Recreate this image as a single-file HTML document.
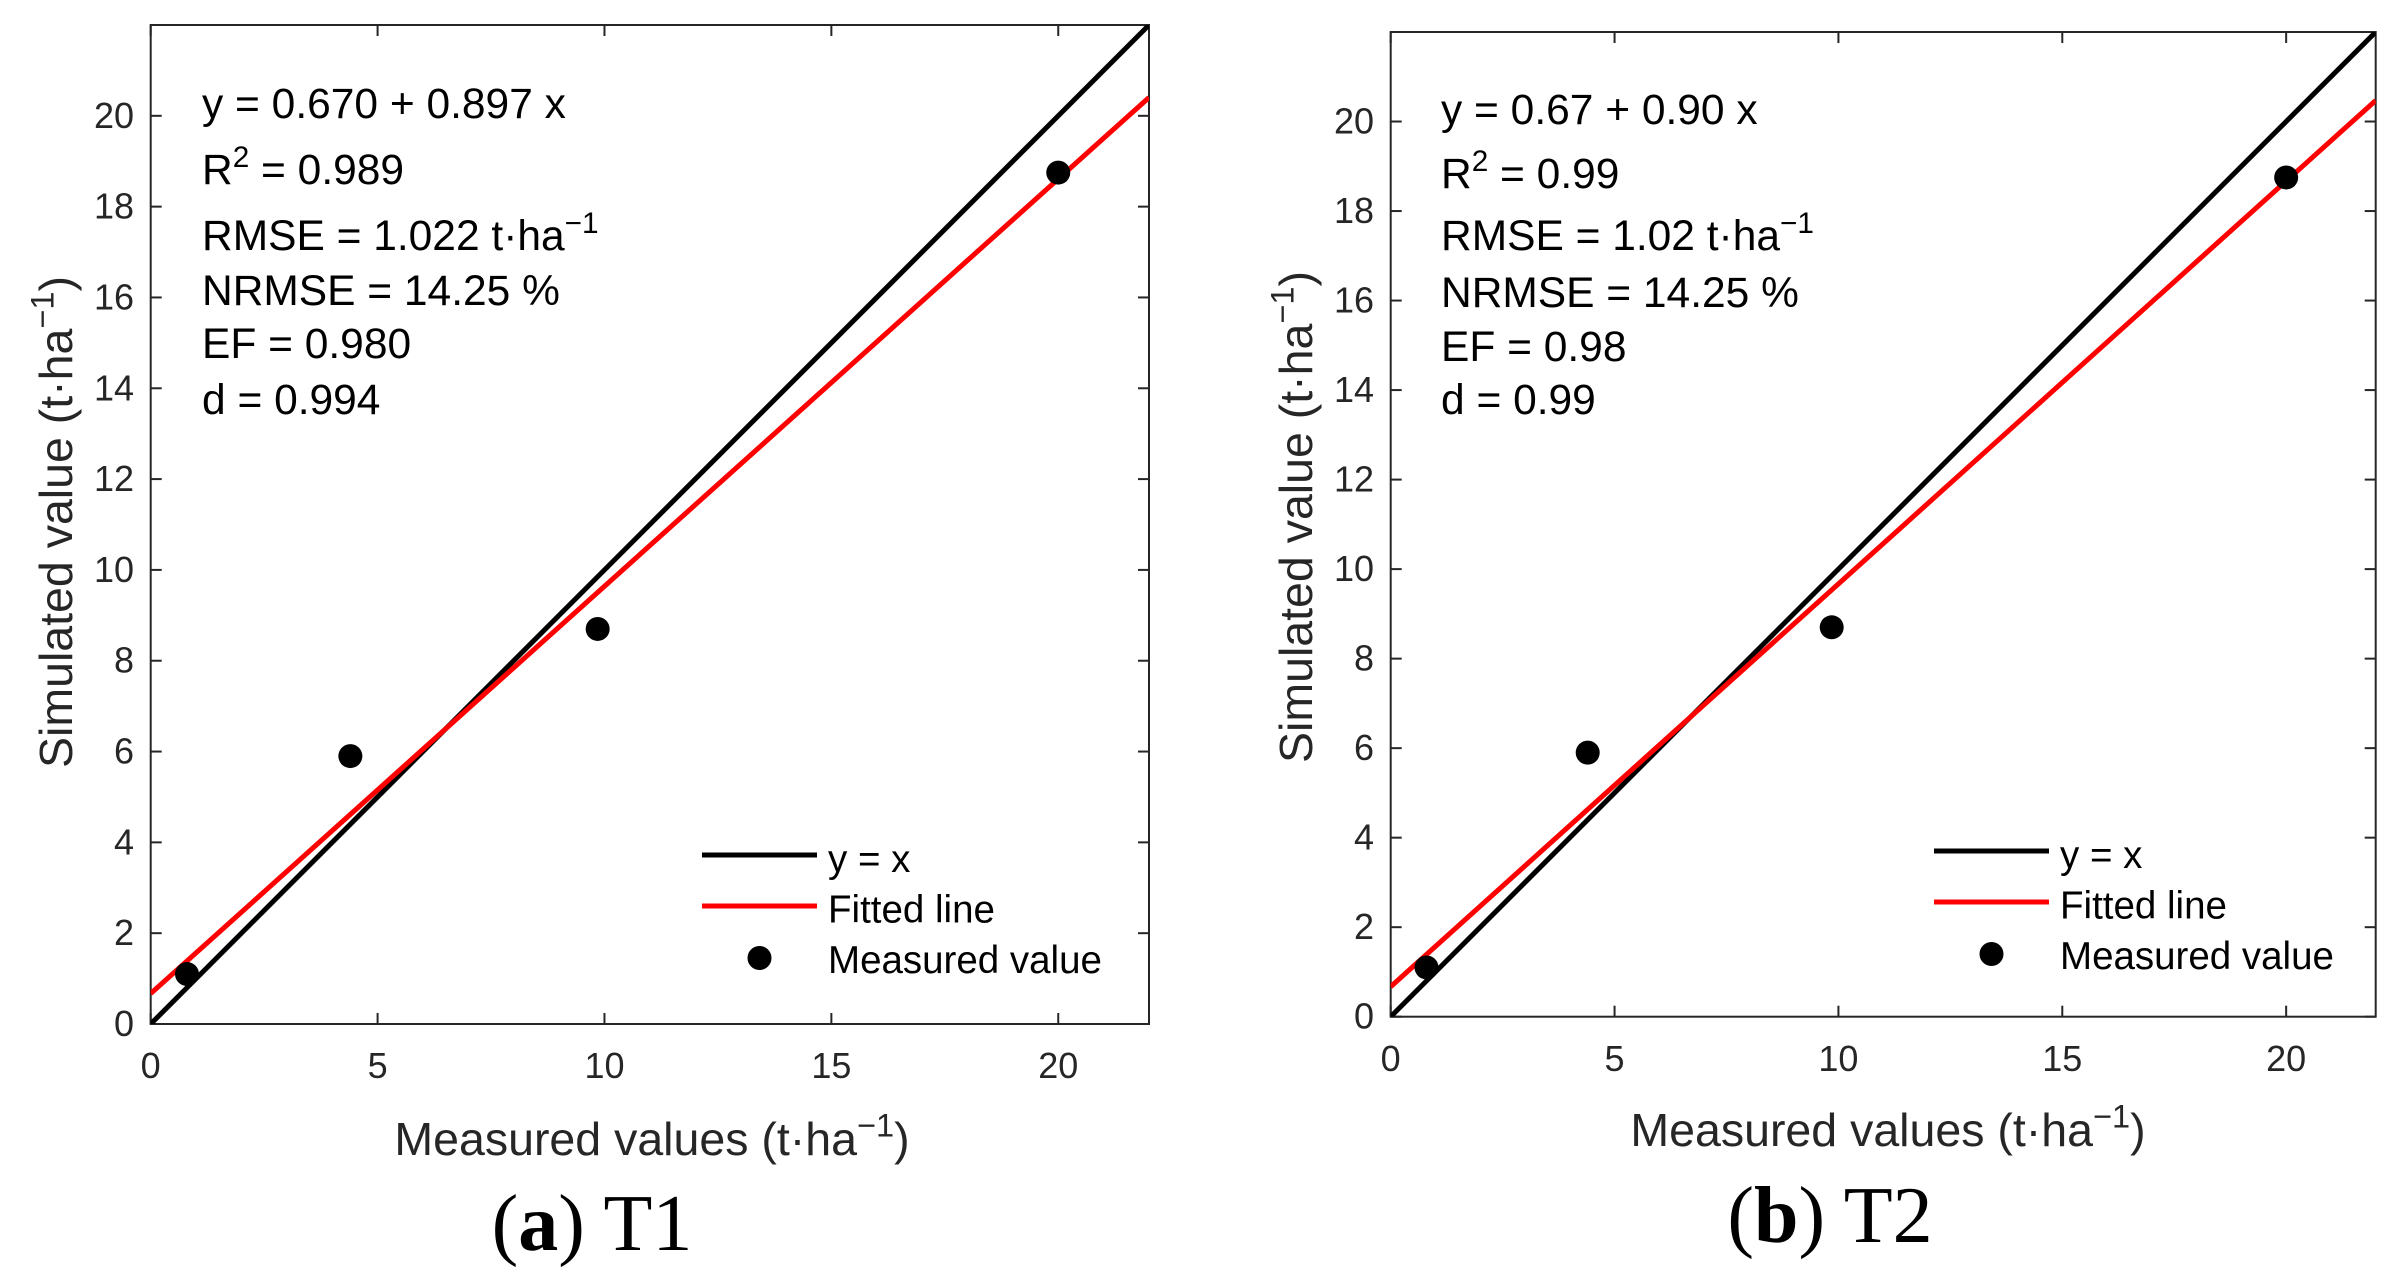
<!DOCTYPE html>
<html><head><meta charset="utf-8"><style>
html,body{margin:0;padding:0;background:#fff;}
svg{display:block;font-family:"Liberation Sans",Arial,sans-serif;}
</style></head><body>
<svg id="fig" width="2400" height="1285" viewBox="0 0 2400 1285" xmlns="http://www.w3.org/2000/svg"></svg>
<script>
const measuredT1 = [0.8, 4.4, 9.85, 20.0];
const simulatedT1 = [1.1, 5.9, 8.7, 18.75];
const measuredT2 = [0.8, 4.4, 9.85, 20.0];
const simulatedT2 = [1.1, 5.9, 8.7, 18.75];
const fitT1 = [0.670, 0.897];
const fitT2 = [0.67, 0.90];
const xTicks = [0, 5, 10, 15, 20];
const yTicks = [0, 2, 4, 6, 8, 10, 12, 14, 16, 18, 20];
const axisMax = [22, 22];
const statsT1 = ["y = 0.670 + 0.897 x", "R|2| = 0.989", "RMSE = 1.022 t·ha|−1|", "NRMSE = 14.25 %", "EF = 0.980", "d = 0.994"];
const statsT2 = ["y = 0.67 + 0.90 x", "R|2| = 0.99", "RMSE = 1.02 t·ha|−1|", "NRMSE = 14.25 %", "EF = 0.98", "d = 0.99"];

const NS = "http://www.w3.org/2000/svg";
const svg = document.getElementById('fig');
function mk(tag, attrs, parent){const e=document.createElementNS(NS,tag);for(const k in attrs)e.setAttribute(k,attrs[k]);(parent||svg).appendChild(e);return e;}
function richText(g, str, x, y, size, anchor){
  const t = mk('text',{x:x,y:y,'font-size':size,fill:'#000','text-anchor':anchor||'start'},g);
  const parts = str.split('|');
  parts.forEach((p,i)=>{
    if(!p) return;
    const s = mk('tspan',{},t);
    if(i%2===1){s.setAttribute('dy',-size*0.4);s.setAttribute('font-size',size*0.7);}
    else if(i>0){s.setAttribute('dy',size*0.4);}
    s.textContent=p;
  });
  return t;
}

function panel(P){
  const g = mk('g',{});
  
  
  const sx = v => P.x0 + (v/axisMax[0])*(P.x1-P.x0);
  const sy = v => P.y0 - (v/axisMax[1])*(P.y0-P.y1);
  const clip = mk('clipPath',{id:'clip'+P.id},g);
  mk('rect',{x:P.x0,y:P.y1,width:P.x1-P.x0,height:P.y0-P.y1},clip);
  const ax = mk('g',{stroke:'#262626','stroke-width':2,fill:'none'},g);
  
  
  xTicks.forEach(v=>{
    mk('line',{x1:sx(v),x2:sx(v),y1:P.y0,y2:P.y0-11},ax);
    mk('line',{x1:sx(v),x2:sx(v),y1:P.y1,y2:P.y1+11},ax);
    const t=mk('text',{x:sx(v),y:P.xtb,'font-size':36,fill:'#262626','text-anchor':'middle',stroke:'none'},g);
    
    
    t.textContent=v;
  });
  yTicks.forEach(v=>{
    mk('line',{x1:P.x0,x2:P.x0+11,y1:sy(v),y2:sy(v)},ax);
    mk('line',{x1:P.x1,x2:P.x1-11,y1:sy(v),y2:sy(v)},ax);
    const t=mk('text',{x:P.ytr,y:sy(v)+12,'font-size':36,fill:'#262626','text-anchor':'end'},g);
    
    
    t.textContent=v;
  });
  mk('rect',{x:P.x0,y:P.y1,width:P.x1-P.x0,height:P.y0-P.y1},ax);
  const lg = mk('g',{'clip-path':'url(#clip'+P.id+')'},g);
  const l1 = mk('line',{x1:sx(0),y1:sy(0),x2:sx(axisMax[0]),y2:sy(axisMax[0]),stroke:'#000','stroke-width':5},lg);
  
  
  const l2 = mk('line',{x1:sx(0),y1:sy(P.fit[0]),x2:sx(axisMax[0]),y2:sy(P.fit[0]+P.fit[1]*axisMax[0]),stroke:'#ff0000','stroke-width':5},lg);
  
  
  P.mx.forEach((v,i)=>{
    const c = mk('circle',{cx:sx(v),cy:sy(P.my[i]),r:12,fill:'#000'},g);
    
    
  });
  P.stats.forEach((s,i)=>{
    const t = richText(g, s, P.tx, P.tb[i], 42.5);
    
    
  });
  const L = mk('g',{},g);
  
  
  mk('line',{x1:P.lx0,x2:P.lx1,y1:P.ly,y2:P.ly,stroke:'#000','stroke-width':5},L);
  mk('line',{x1:P.lx0,x2:P.lx1,y1:P.ly+51,y2:P.ly+51,stroke:'#ff0000','stroke-width':5},L);
  mk('circle',{cx:(P.lx0+P.lx1)/2,cy:P.ly+103,r:12,fill:'#000'},L);
  ["y = x","Fitted line","Measured value"].forEach((s,i)=>{
    const t=mk('text',{x:P.lx1+11,y:P.ly+17+i*50.5,'font-size':38.5,fill:'#000'},L);
    
    
    t.textContent=s;
  });
  const xt = richText(g, "Measured values (t·ha|−1|)", P.xtc, P.xtitle, 46.5, 'middle');
  xt.setAttribute('fill','#262626');
  
  
  const yg = mk('g',{transform:'translate('+P.ytx+','+P.yty+') rotate(-90)'},g);
  const yt = richText(yg, "Simulated value (t·ha|−1|)", 0, 0, 46.5, 'middle');
  yt.setAttribute('fill','#262626');
  
  
  const cap = mk('text',{x:P.capx,y:P.capy,'font-size':80,'font-family':'"Liberation Serif",serif',fill:'#000','text-anchor':'middle'},g);
  
  
  const a=mk('tspan',{},cap);a.textContent='(';
  const b=mk('tspan',{'font-weight':'bold'},cap);b.textContent=P.letter;
  const c=mk('tspan',{},cap);c.textContent=') '+P.cap;
}

panel({id:1,name:'panel-a-t1',x0:150.7,x1:1149,y0:1024,y1:25,fit:fitT1,mx:measuredT1,my:simulatedT1,stats:statsT1,
  tx:202,tb:[118,184,250,305,358,414],lx0:702,lx1:817,ly:855,xtb:1078,ytr:134,xtc:652,xtitle:1155,ytx:72,yty:522,
  capx:592,capy:1250,letter:'a',cap:'T1'});
panel({id:2,name:'panel-b-t2',x0:1390.7,x1:2375.7,y0:1016.7,y1:32,fit:fitT2,mx:measuredT2,my:simulatedT2,stats:statsT2,
  tx:1441,tb:[124,188,250,307,361,414],lx0:1934,lx1:2049,ly:851,xtb:1071,ytr:1374,xtc:1888,xtitle:1146,ytx:1312,yty:517,
  capx:1830,capy:1242,letter:'b',cap:'T2'});
</script>
</body></html>
